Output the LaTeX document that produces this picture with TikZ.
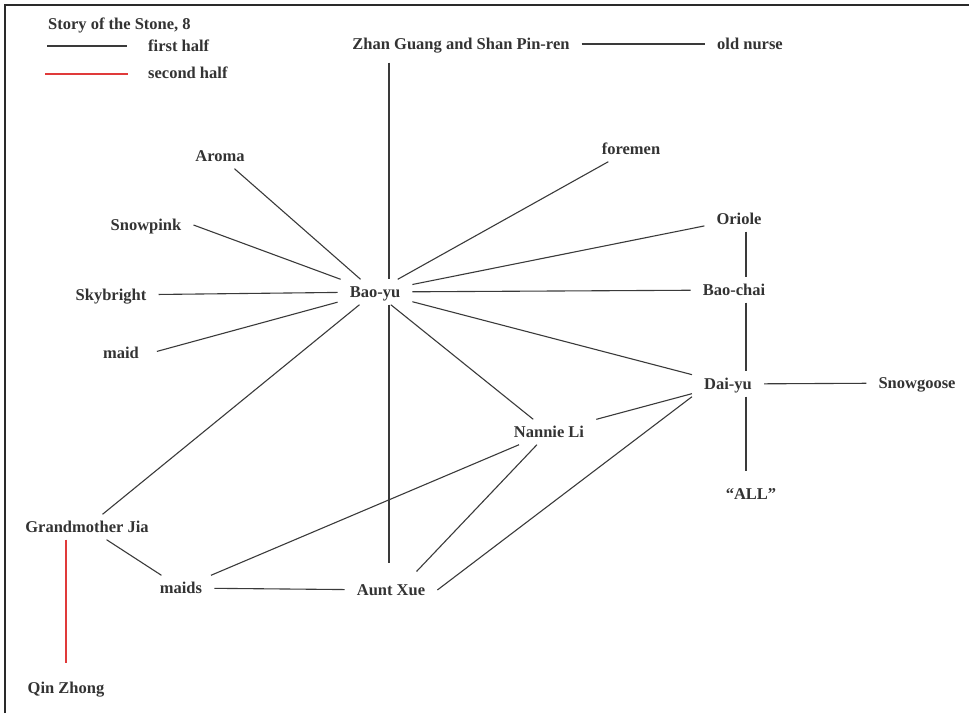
\documentclass[tikz,border=0pt]{standalone}
\usepackage{fontspec}
\setmainfont{Liberation Serif}
\definecolor{txt}{HTML}{333333}
\definecolor{ln}{HTML}{3A3A3A}
\definecolor{frm}{HTML}{2A2A2A}
\definecolor{rln}{HTML}{E03A3A}
\begin{document}
\begin{tikzpicture}[x=1pt,y=-1pt,
  lbl/.style={font=\fontsize{16.5}{18}\selectfont\bfseries, text=txt, inner xsep=12pt, inner ysep=7pt, text height=11pt, text depth=0pt},
  leg/.style={font=\fontsize{16.5}{18}\selectfont\bfseries, text=txt, inner sep=0pt, anchor=west},
  edge/.style={draw=ln, line width=1.1pt},
  redge/.style={draw=rln, line width=1.1pt}]
\useasboundingbox (0,0) rectangle (969,713);
\draw[line width=2pt, draw=frm] (5,713) -- (5,5) -- (969,5);
% legend
\node[leg] (title) at (48,25) {Story of the Stone, 8};
\node[leg] (first) at (148,46) {first half};
\node[leg] (second) at (148,73) {second half};
\coordinate (la) at (47,46);
\coordinate (lb) at (45,74);
\draw[edge] (la) -- ([xshift=-21pt]first.west |- la);
\draw[redge] (lb) -- ([xshift=-20pt]second.west |- lb);
% nodes
\node[lbl] (zhan) at (461,44) {Zhan Guang and Shan Pin-ren};
\node[lbl] (nurse) at (750,44) {old nurse};
\node[lbl] (aroma) at (220,156) {Aroma};
\node[lbl] (foremen) at (631,149) {foremen};
\node[lbl] (snowpink) at (146,225) {Snowpink};
\node[lbl] (oriole) at (739,219) {Oriole};
\node[lbl] (baoyu) at (375,292) {Bao-yu};
\node[lbl] (skybright) at (111,295) {Skybright};
\node[lbl] (baochai) at (734,290) {Bao-chai};
\node[lbl] (maid) at (121,353) {maid};
\node[lbl] (daiyu) at (728,384) {Dai-yu};
\node[lbl] (snowgoose) at (917,383) {Snowgoose};
\node[lbl] (all) at (751,494) {``ALL''};
\node[lbl] (nannie) at (549,432) {Nannie Li};
\node[lbl] (gj) at (87,527) {Grandmother Jia};
\node[lbl] (maids) at (181,588) {maids};
\node[lbl] (aunt) at (391,590) {Aunt Xue};
\node[lbl] (qin) at (66,688) {Qin Zhong};
\coordinate (vx) at (746,0);
\coordinate (vz) at (389,0);
% edges
\draw[edge] (zhan) -- (nurse);
\draw[edge, shorten <=6pt] (zhan.south -| vz) -- (baoyu.north -| vz);
\draw[edge, shorten >=14pt] (baoyu.south -| vz) -- (aunt.north -| vz);
\foreach \n in {aroma,foremen,oriole,skybright,baochai,daiyu,nannie,gj}
  \draw[edge] (\n) -- (baoyu);
\draw[edge] (snowpink.east) -- (baoyu);
\draw[edge, shorten <=6pt] (maid.east) -- (baoyu);
\draw[edge] (oriole.south -| vx) -- (baochai.north -| vx);
\draw[edge] (baochai.south -| vx) -- (daiyu.north -| vx);
\draw[edge, shorten >=10pt] (daiyu.south -| vx) -- (all.north -| vx);
\draw[edge] (daiyu) -- (snowgoose);
\draw[edge] (nannie) -- (daiyu);
\draw[edge, shorten >=8pt] (nannie) -- ([xshift=20pt]aunt.north);
\draw[edge] (nannie) -- (maids);
\draw[edge] (daiyu.south west) -- (aunt.east);
\draw[edge] (gj) -- (maids);
\draw[edge] (maids) -- (aunt);
\draw[redge, shorten >=12pt] (gj.south -| qin) -- (qin.north);
\end{tikzpicture}
\end{document}
